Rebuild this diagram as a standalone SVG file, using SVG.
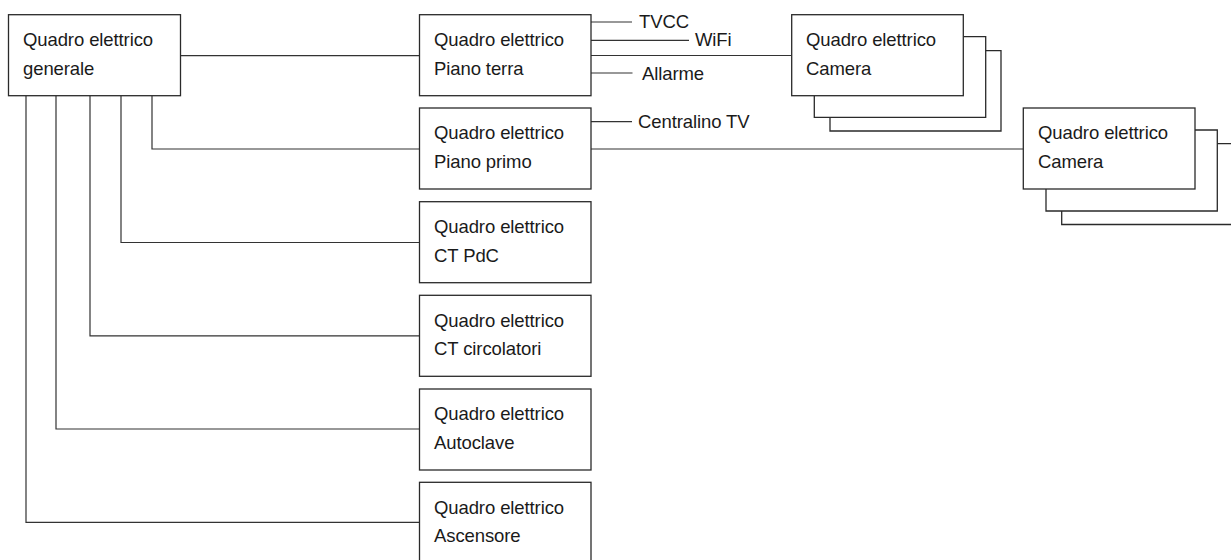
<svg xmlns="http://www.w3.org/2000/svg" width="1231" height="560" viewBox="0 0 1231 560">
<style>
  .box { fill: #fff; stroke: #2a2a2a; stroke-width: 1.3; }
  .stack { fill: none; stroke: #2a2a2a; stroke-width: 1.3; }
  .wire { fill: none; stroke: #333; stroke-width: 1.2; }
  text { font-family: "Liberation Sans", Arial, sans-serif; font-size: 18.5px; letter-spacing: -0.1px; fill: #1a1a1a; }
</style>
<rect width="1231" height="560" fill="#fff"/>
<g id="connectors">
  <path class="wire" d="M180.5 55.7 H419.5"/>
  <path class="wire" d="M152 96 V149 H419.5"/>
  <path class="wire" d="M121 96 V242.5 H419.5"/>
  <path class="wire" d="M90 96 V335.8 H419.5"/>
  <path class="wire" d="M56 96 V429 H419.5"/>
  <path class="wire" d="M26 96 V522.3 H419.5"/>
  <path class="wire" d="M591 22 H632"/>
  <path class="wire" d="M591 40.3 H689"/>
  <path class="wire" d="M591 55.5 H791.7"/>
  <path class="wire" d="M591 73 H632.5"/>
  <path class="wire" d="M591 121.7 H632"/>
  <path class="wire" d="M591 149 H1023.3"/>
</g>
<g id="main">
  <rect class="box" x="8.5" y="14.7" width="172" height="81"/>
  <text x="23" y="46">Quadro elettrico</text>
  <text x="23" y="74.5">generale</text>
</g>
<g id="piano-terra">
  <rect class="box" x="419.5" y="14.7" width="171.5" height="81"/>
  <text x="434" y="46">Quadro elettrico</text>
  <text x="434" y="74.5">Piano terra</text>
</g>
<g id="piano-primo">
  <rect class="box" x="419.5" y="108" width="171.5" height="81"/>
  <text x="434" y="139.3">Quadro elettrico</text>
  <text x="434" y="167.8">Piano primo</text>
</g>
<g id="ct-pdc">
  <rect class="box" x="419.5" y="201.7" width="171.5" height="81"/>
  <text x="434" y="233">Quadro elettrico</text>
  <text x="434" y="261.5">CT PdC</text>
</g>
<g id="ct-circolatori">
  <rect class="box" x="419.5" y="295.3" width="171.5" height="81"/>
  <text x="434" y="326.6">Quadro elettrico</text>
  <text x="434" y="355.1">CT circolatori</text>
</g>
<g id="autoclave">
  <rect class="box" x="419.5" y="389" width="171.5" height="81"/>
  <text x="434" y="420.3">Quadro elettrico</text>
  <text x="434" y="448.8">Autoclave</text>
</g>
<g id="ascensore">
  <rect class="box" x="419.5" y="482.3" width="171.5" height="81"/>
  <text x="434" y="513.6">Quadro elettrico</text>
  <text x="434" y="542.1">Ascensore</text>
</g>
<g id="tvcc"><text x="639" y="27.7">TVCC</text></g>
<g id="wifi"><text x="695" y="45.5">WiFi</text></g>
<g id="allarme"><text x="642" y="79.5">Allarme</text></g>
<g id="centralino"><text x="638" y="127.5">Centralino TV</text></g>
<g id="camera-1">
  <path class="stack" d="M985.7 50.7 H1001 V131 H830 V117.3"/>
  <path class="stack" d="M963.3 36.7 H985.7 V117.3 H814.3 V95.7"/>
  <rect class="box" x="791.7" y="14.7" width="171.6" height="81"/>
  <text x="806" y="46">Quadro elettrico</text>
  <text x="806" y="74.5">Camera</text>
</g>
<g id="camera-2">
  <path class="stack" d="M1217.3 143.7 H1232 M1061.7 211 V224.5 H1232"/>
  <path class="stack" d="M1195 130 H1217.3 V211 H1046 V189"/>
  <rect class="box" x="1023.3" y="108" width="171.7" height="81"/>
  <text x="1038" y="139.3">Quadro elettrico</text>
  <text x="1038" y="167.8">Camera</text>
</g>
</svg>
